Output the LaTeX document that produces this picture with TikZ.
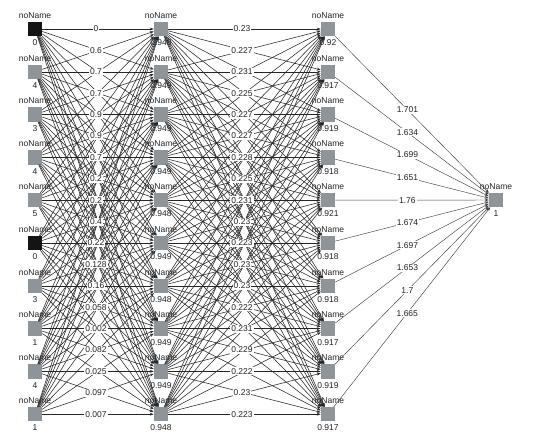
\documentclass[tikz,border=0pt]{standalone}
\usepackage{fontspec}
\setmainfont{Liberation Sans}
\usetikzlibrary{arrows.meta}
\definecolor{unitgray}{RGB}{142,148,152}
\definecolor{inkgray}{RGB}{35,35,35}
\begin{document}
\begin{tikzpicture}[x=1pt,y=-1pt,
  unit/.style={draw=none, fill=unitgray, minimum size=14.5pt, inner sep=0pt, outer sep=0pt},
  zerounit/.style={unit, fill=black!92},
  txt/.style={font=\fontsize{8.5}{10}\selectfont, text=inkgray, inner sep=0pt},
  toptext/.style={txt, anchor=base, yshift=3.5pt},
  bottext/.style={txt, anchor=base, yshift=-9.5pt},
  wlabel/.style={font=\fontsize{8.5}{10}\selectfont, text=inkgray, fill=white, inner sep=1pt},
  conn/.style={draw=black!85, line width=0.55pt, -{Stealth[length=4pt,width=2.8pt]}},
  outconn/.style={draw=black!75, line width=0.45pt, -{Stealth[length=4pt,width=2.8pt]}},
]
\useasboundingbox (0,0) rectangle (534,446);

% units
\foreach \v [count=\i from 0] in {0,4,3,4,5,0,3,1,4,1} {
  \ifnum\v=0
    \node[zerounit] (a\i) at (35,29+42.8*\i) {};
  \else
    \node[unit] (a\i) at (35,29+42.8*\i) {};
  \fi
}
\foreach \i in {0,...,9} {
  \node[unit] (b\i) at (161,29+42.8*\i) {};
  \node[unit] (c\i) at (328,29+42.8*\i) {};
}
\node[unit] (o) at (496,200) {};

% connections
\foreach \i in {0,...,9} {
  \foreach \j in {0,...,9} {
    \draw[conn] (a\i) -- (b\j);
    \draw[conn] (b\i) -- (c\j);
  }
}

% unit texts
\foreach \v [count=\i from 0] in {0,4,3,4,5,0,3,1,4,1} {
  \node[toptext] at (a\i.north) {noName};
  \node[bottext] at (a\i.south) {\v};
}
\foreach \v [count=\i from 0] in {0.948,0.949,0.949,0.949,0.948,0.949,0.948,0.949,0.949,0.948} {
  \node[toptext] at (b\i.north) {noName};
  \node[bottext] at (b\i.south) {\v};
}
\foreach \v [count=\i from 0] in {0.92,0.917,0.919,0.918,0.921,0.918,0.918,0.917,0.919,0.917} {
  \node[toptext] at (c\i.north) {noName};
  \node[bottext] at (c\i.south) {\v};
}
\node[toptext] at (o.north) {noName};
\node[bottext] at (o.south) {1};

% weight labels layer 1 -> 2
\foreach \t [count=\k from 0] in {0,0.6,0.7,0.7,0.9,0.9,0.7,0.2,0.2,0.4,0.22,0.128,0.16,0.058,0.002,0.082,0.025,0.097,0.007} {
  \node[wlabel] at (96,29+21.4*\k) {\t};
}
% weight labels layer 2 -> 3
\foreach \t [count=\k from 0] in {0.23,0.227,0.231,0.225,0.227,0.227,0.228,0.225,0.231,0.23,0.223,0.23,0.23,0.222,0.231,0.229,0.222,0.23,0.223} {
  \node[wlabel] at (242,29+21.4*\k) {\t};
}
% layer 3 -> output
\foreach \j/\t in {0/1.701,1/1.634,2/1.699,3/1.651,4/1.76,5/1.674,6/1.697,7/1.653,8/1.7,9/1.665} {
  \draw[outconn] (c\j) -- node[wlabel, pos=0.47] {\t} (o);
}
\end{tikzpicture}
\end{document}
